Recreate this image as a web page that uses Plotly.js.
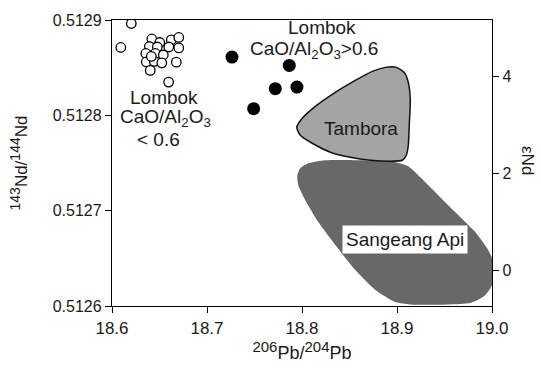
<!DOCTYPE html>
<html>
<head>
<meta charset="utf-8">
<script src="https://cdn.plot.ly/plotly-3.0.1.min.js"></script>
<style>html,body{margin:0;padding:0;background:#fff;}#chart{width:541px;height:368px;}</style>
</head>
<body>
<div id="chart"></div>
<script>
// Lombok, CaO/Al2O3 < 0.6 (open circles)
const lowPb = [18.6203,18.6093,18.6419,18.6503,18.6624,18.6703,18.6393,18.6477,18.6598,18.6703,
               18.6356,18.6456,18.6540,18.6361,18.6445,18.6524,18.6677,18.6403,18.6596,18.6414];
const lowNd = [0.5128963,0.5128712,0.5128801,0.5128764,0.5128791,0.5128817,0.5128722,0.5128717,0.5128717,0.5128707,
               0.5128649,0.5128649,0.5128633,0.5128560,0.5128565,0.5128550,0.5128558,0.5128471,0.5128349,0.5128618];
// Lombok, CaO/Al2O3 > 0.6 (filled circles)
const highPb = [18.7263,18.7866,18.7719,18.7947,18.7491];
const highNd = [0.5128611,0.5128524,0.5128280,0.5128296,0.5128070];
// Tambora field outline
const tamboraPb = [18.7945,18.8003,18.8140,18.8351,18.8561,18.8740,18.8877,18.8993,18.9077,18.9119,18.9140,
                   18.9129,18.9119,18.9098,18.9056,18.8929,18.8719,18.8508,18.8298,18.8108,18.7982,18.7945];
const tamboraNd = [0.5127874,0.5127969,0.5128094,0.5128241,0.5128366,0.5128461,0.5128503,0.5128503,0.5128450,0.5128346,0.5128157,
                   0.5127895,0.5127686,0.5127581,0.5127529,0.5127518,0.5127529,0.5127560,0.5127613,0.5127707,0.5127791,0.5127874];
// Sangeang Api field outline
const sangeangPb = [18.7951,18.7982,18.8066,18.8245,18.8614,18.8982,18.9119,18.9224,18.9403,18.9614,18.9824,18.9961,19.0,
                    19.0,18.9919,18.9772,18.9561,18.9140,18.8982,18.8772,18.8561,18.8351,18.8172,18.8035,18.7961,18.7951];
const sangeangNd = [0.5127372,0.5127445,0.5127497,0.5127529,0.5127529,0.5127508,0.5127466,0.5127372,0.5127194,0.5126984,0.5126775,0.5126586,0.5126503,
                    0.5126220,0.5126105,0.5126031,0.5126016,0.5126016,0.5126042,0.5126168,0.5126377,0.5126639,0.5126880,0.5127110,0.5127267,0.5127372];
const xTicks = [18.6,18.7,18.8,18.9,19.0];
const yTicks = [0.5126,0.5127,0.5128,0.5129];
const eNdTicks = [0,2,4];

const FONT = '"Liberation Sans", Arial, Helvetica, sans-serif';
const TXT = '#1a1a1a';

const traces = [
  {x: sangeangPb, y: sangeangNd, type:'scatter', mode:'lines', line:{color:'#686868', width:0, shape:'spline', smoothing:0.6},
   fill:'toself', fillcolor:'#686868', hoverinfo:'skip', showlegend:false},
  {x: tamboraPb, y: tamboraNd, type:'scatter', mode:'lines', line:{color:'#111', width:1.5, shape:'spline', smoothing:0.6},
   fill:'toself', fillcolor:'#a4a4a4', hoverinfo:'skip', showlegend:false},
  {x: lowPb, y: lowNd, type:'scatter', mode:'markers', marker:{symbol:'circle', size:9.5, color:'#fff', line:{color:'#000', width:1.3}}, showlegend:false},
  {x: highPb, y: highNd, type:'scatter', mode:'markers', marker:{symbol:'circle', size:13, color:'#000'}, showlegend:false},
  {x:[null], y:[null], yaxis:'y2', type:'scatter', mode:'markers', showlegend:false, hoverinfo:'skip'}
];

const sup = (t, s) => '<sup><span style="font-size:' + s + 'px">' + t + '</span></sup>';
const annFont = {family:FONT, size:19, color:TXT};
const layout = {
  width:541, height:368,
  margin:{l:112, r:49, t:20, b:62},
  paper_bgcolor:'#fff', plot_bgcolor:'#fff',
  showlegend:false,
  font:{family:FONT, color:TXT},
  xaxis:{range:[18.6,19.0], tickvals:xTicks, ticktext:xTicks.map(v=>v.toFixed(1)), ticks:'outside', ticklen:6, tickwidth:1, tickcolor:'#000',
         showline:true, linecolor:'#000', linewidth:1.2, mirror:true, showgrid:false, zeroline:false,
         tickfont:{family:FONT, size:17, color:TXT},
         title:{text: sup('206',15) + 'Pb/' + sup('204',15) + 'Pb', font:{family:FONT, size:18, color:TXT}, standoff:4}},
  yaxis:{range:[0.5126,0.5129], tickvals:yTicks, ticktext:yTicks.map(v=>v.toFixed(4)), ticks:'outside', ticklen:6, tickwidth:1, tickcolor:'#000',
         showline:true, linecolor:'#000', linewidth:1.2, mirror:true, showgrid:false, zeroline:false,
         tickfont:{family:FONT, size:16, color:TXT},
         title:{text: sup('143',14) + 'Nd/' + sup('144',14) + 'Nd', font:{family:FONT, size:17, color:TXT}, standoff:20}},
  yaxis2:{overlaying:'y', side:'right', anchor:'x', range:[-0.742,5.155], tickvals:eNdTicks, ticks:'outside', ticklen:6, tickwidth:1, tickcolor:'#000',
          showline:true, linecolor:'#000', linewidth:1.2, showgrid:false, zeroline:false,
          tickfont:{family:FONT, size:16, color:TXT}},
  annotations:[
    {x:18.8214, y:0.5128921, xref:'x', yref:'y', text:'Lombok', showarrow:false, font:annFont},
    {x:18.8122, y:0.5128681, xref:'x', yref:'y', text:'CaO/Al<sub>2</sub>O<sub>3</sub>>0.6', showarrow:false, font:annFont},
    {x:18.6551, y:0.5128188, xref:'x', yref:'y', text:'Lombok', showarrow:false, font:annFont},
    {x:18.6562, y:0.5127969, xref:'x', yref:'y', text:'CaO/Al<sub>2</sub>O<sub>3</sub>', showarrow:false, font:annFont},
    {x:18.6487, y:0.5127749, xref:'x', yref:'y', text:'< 0.6', showarrow:false, font:annFont},
    {x:18.8624, y:0.5127864, xref:'x', yref:'y', text:'Tambora', showarrow:false, font:annFont},
    {x:18.9087, y:0.5126702, xref:'x', yref:'y', text:'Sangeang Api', showarrow:false, font:annFont, bgcolor:'#fff', borderpad:3},
    {x:1.095, y:0.51, xref:'paper', yref:'paper', xanchor:'center', yanchor:'middle', text:'εNd', textangle:90, showarrow:false, font:{family:FONT, size:17, color:TXT}}
  ]
};
Plotly.newPlot('chart', traces, layout, {staticPlot:true, displayModeBar:false});
</script>
</body>
</html>
